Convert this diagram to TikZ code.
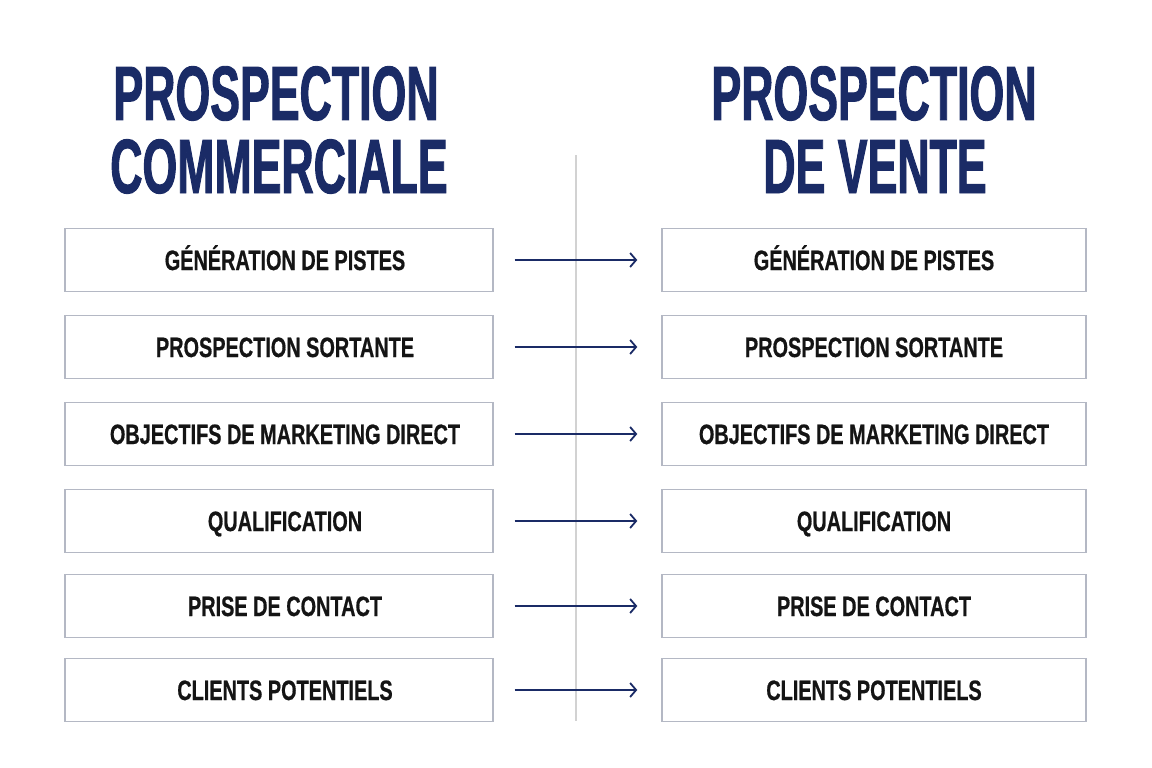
\documentclass[tikz,border=0pt]{standalone}
\usepackage{fontspec}
\usetikzlibrary{arrows.meta}
\newfontfamily\titlefont[FakeStretch=0.58,FakeBold=1.2]{Liberation Sans}
\newfontfamily\boxfont[FakeStretch=0.71,FakeBold=0.6]{Liberation Sans}
\definecolor{navy}{HTML}{1A2B66}
\definecolor{boxgray}{HTML}{B4B8C4}
\definecolor{textblack}{HTML}{141414}
\definecolor{divgray}{HTML}{D2D2D2}
\begin{document}
\begin{tikzpicture}[x=1pt,y=-1pt,
  box/.style={draw=boxgray,line width=1.4pt,minimum width=428pt,minimum height=63pt,
    inner sep=0pt,fill=white},
  lbl/.style={inner sep=0pt,text=textblack,text height=20pt,text depth=0pt,
    font=\boxfont\bfseries\fontsize{28}{28}\selectfont},
  ttl/.style={anchor=base,inner sep=0pt,text=navy,
    font=\titlefont\bfseries\fontsize{77}{77}\selectfont},
  link/.style={draw=navy,line width=2pt,-{Straight Barb[length=6pt,width=14pt,line width=1.8pt]}}]
\useasboundingbox[fill=white] (0,0) rectangle (1152,768);
% titles
\node[ttl] (tl1) at (276,120) {PROSPECTION};
\node[ttl] (tl2) at (279,193) {COMMERCIALE};
\node[ttl] (tr1) at (874,120) {PROSPECTION};
\node[ttl] (tr2) at (875,193) {DE VENTE};
% divider
\coordinate (dtop) at (576,155);
\coordinate (dbot) at (576,721);
\draw[divgray,line width=1.5pt] (dtop) -- (dbot);
% boxes
\foreach \i/\y/\t in {1/260/GÉNÉRATION DE PISTES,
                      2/347/PROSPECTION SORTANTE,
                      3/434/OBJECTIFS DE MARKETING DIRECT,
                      4/521/QUALIFICATION,
                      5/606/PRISE DE CONTACT,
                      6/690/CLIENTS POTENTIELS}{
  \node[box] (l\i) at (279,\y) {};
  \node[lbl] (lt\i) at (285,\y) {\t};
  \node[box,minimum width=424pt] (r\i) at (874,\y) {};
  \node[lbl] (rt\i) at (874,\y) {\t};
  \draw[link] ([xshift=21pt]l\i.east) -- ([xshift=-24pt]r\i.west);
}
\end{tikzpicture}
\end{document}
